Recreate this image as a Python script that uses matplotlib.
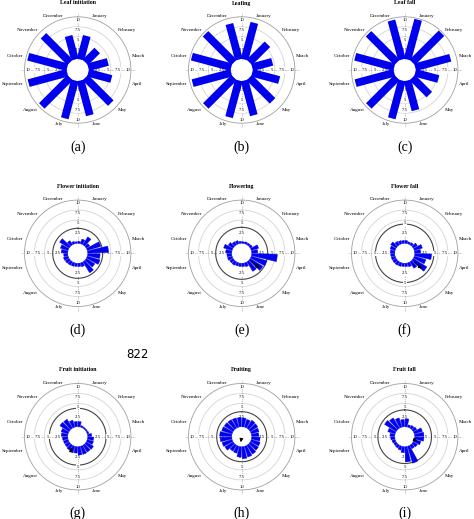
import numpy as np
import matplotlib
matplotlib.use('Agg')
import matplotlib.pyplot as plt

# ---- data ----
months = ['January', 'February', 'March', 'April', 'May', 'June', 'July',
          'August', 'September', 'October', 'November', 'December']
titles = ['Leaf initiation', 'Leafing', 'Leaf fall',
          'Flower initiation', 'Flowering', 'Flower fall',
          'Fruit initiation', 'Fruiting', 'Fruit fall']
panel_tags = ['(a)', '(b)', '(c)', '(d)', '(e)', '(f)', '(g)', '(h)', '(i)']
tick_vals = [2.5, 5, 7.5, 10]
tick_text = ['2.5', '5', '7.5', '10']

# monthly leaf phenology (bars centred on each month)
leaf_init = [6.3, 4.4, 5.3, 6.2, 9.2, 9.2, 10.0, 10.2, 10.2, 10.3, 9.6, 6.3]
leafing = [9.7, 6.6, 5.4, 7.2, 8.4, 9.2, 9.7, 10.2, 10.2, 10.4, 10.3, 9.4]
leaf_fall = [10.5, 10.5, 9.3, 6.2, 6.2, 7.9, 10.0, 10.2, 10.2, 10.3, 10.3, 10.3]

# flower / fruit phenology, 24 bins of 15 degrees starting at north
flower_init = [0.5, 1.2, 2.3, 1.0, 3.5, 5.2, 3.1, 3.3, 2.5, 3.2, 1.0, 0.8,
               0.8, 0.9, 1.0, 1.1, 1.2, 1.0, 1.6, 2.0, 2.8, 1.2, 0.6, 0.4]
flowering = [0.4, 0.5, 0.5, 0.6, 1.9, 1.5, 6.4, 4.0, 3.7, 2.8, 1.0, 0.8,
             0.8, 0.8, 1.0, 1.0, 1.2, 1.2, 1.5, 2.2, 1.4, 0.9, 0.8, 0.5]
flower_fall = [0.7, 0.5, 0.6, 1.2, 2.1, 1.5, 4.2, 3.0, 4.0, 1.9, 1.0, 0.8,
               0.8, 0.9, 1.0, 1.0, 1.0, 1.0, 1.1, 1.3, 1.6, 1.0, 0.8, 0.7]
fruit_init = [1.3, 0.4, 0.3, 0.3, 0.4, 1.0, 1.5, 1.6, 2.1, 2.0, 2.1, 2.1,
              1.6, 1.7, 1.4, 1.2, 1.2, 1.3, 1.6, 1.8, 2.7, 2.6, 1.8, 1.3]
fruiting = [2.2, 2.0, 2.3, 2.2, 2.0, 1.8, 2.1, 2.3, 2.4, 2.6, 2.8, 3.0,
            2.6, 1.8, 1.7, 2.4, 2.6, 2.9, 3.0, 2.7, 2.6, 2.5, 2.4, 2.3]
fruit_fall = [2.0, 0.6, 0.8, 1.0, 2.1, 2.3, 2.3, 1.7, 1.2, 1.0, 4.4, 3.8,
              1.5, 1.0, 0.8, 0.7, 0.8, 1.0, 1.2, 1.9, 3.4, 3.0, 2.4, 1.8]

# reference ring (value units) and mean direction arrows (deg, radius)
ring_vals = [None, None, None, 3.75, 4.0, 4.8, 4.6, 3.75, 4.2]
arrow_deg = [None, None, None, None, 130, 132, 207, 190, 108]
arrow_len = [None, None, None, None, 6.5, 6.5, 5.2, 2.1, 4.0]

series = [leaf_init, leafing, leaf_fall, flower_init, flowering, flower_fall,
          fruit_init, fruiting, fruit_fall]

# ---- layout ----
W, H = 474, 519
HOLE = 2.5
RMAX = 13.3
PX_PER_UNIT = 4.0
R_PX = RMAX * PX_PER_UNIT
centers_x = [77.7, 241.7, 404.7]
centers_y = [70, 253.3, 436.7]
SERIF = 'Liberation Serif'
BLUE = '#0000ee'

fig = plt.figure(figsize=(W / 100, H / 100), dpi=100)


def circle(ax, r, color, lw, z=1):
    t = np.linspace(0, 2 * np.pi, 300)
    ax.plot(t, np.full_like(t, r), color=color, lw=lw, zorder=z)


def rose(idx):
    cx = centers_x[idx % 3]
    cy = centers_y[idx // 3]
    ax = fig.add_axes([(cx - R_PX) / W, 1 - (cy + R_PX) / H, 2 * R_PX / W, 2 * R_PX / H],
                      projection='polar')
    ax.set_theta_zero_location('N')
    ax.set_theta_direction(-1)
    ax.set_ylim(0, RMAX)
    ax.grid(False)
    ax.set_xticks([])
    ax.set_yticks([])
    ax.spines['polar'].set_color('#a0a0a0')
    ax.spines['polar'].set_linewidth(0.6)

    # grid circles
    for v in [5, 7.5]:
        circle(ax, HOLE + 0.8 + v, '#d4d4d4', 0.6)
    if ring_vals[idx] is not None:
        circle(ax, HOLE + ring_vals[idx], '#444444', 0.8, z=1.5)

    vals = np.array(series[idx])
    n = len(vals)
    if n == 12:
        # monthly bars drawn as straight strips of constant width
        theta = np.radians(15 + 30 * np.arange(n))
        for th, v in zip(theta, vals):
            ax.plot([th, th], [HOLE + 0.2, HOLE + v], color=BLUE, lw=5.6,
                    solid_capstyle='butt', zorder=2)
    else:
        theta = np.radians(7.5 + 15 * np.arange(n))
        ax.bar(theta, vals, width=np.radians(12), bottom=HOLE, color=BLUE,
               edgecolor=BLUE, linewidth=0.3, zorder=2)

    # cross axes with tick labels (drawn under the bars)
    for d in [0, 90, 180, 270]:
        th = np.radians(d)
        ax.plot([th, th], [HOLE, 14.3], color='#8c8c8c', lw=0.4,
                ls=(0, (2, 1.5)), clip_on=False, zorder=1)
        for v, s in zip(tick_vals, tick_text):
            ax.text(th, HOLE + v, s, fontsize=3.4, family=SERIF, ha='center',
                    va='center', zorder=1.8,
                    bbox=dict(boxstyle='square,pad=0.15', fc='white', ec='none'))

    # mean direction arrow
    if arrow_deg[idx] is not None:
        th = np.radians(arrow_deg[idx])
        start = HOLE if arrow_len[idx] > HOLE else 0
        ax.annotate('', xy=(th, arrow_len[idx]), xytext=(th, start),
                    arrowprops=dict(arrowstyle='-|>', color='black', lw=0.7,
                                    mutation_scale=5), zorder=4)

    # month labels
    for k, m in enumerate(months):
        ang = 15 + 30 * k
        ha = 'left' if np.sin(np.radians(ang)) > 0 else 'right'
        ax.text(np.radians(ang), 14.0, m, fontsize=3.6, family=SERIF,
                ha=ha, va='center', clip_on=False)

    fig.text(cx / W, 1 - (cy - 67) / H, titles[idx], fontsize=4.2, family=SERIF,
             weight='bold', ha='center', va='center')
    fig.text(cx / W, 1 - (cy + 77) / H, panel_tags[idx], fontsize=10, family=SERIF,
             ha='center', va='center')


for i in range(9):
    rose(i)

fig.text(137 / W, 1 - 355 / H, '822', fontsize=8.5, ha='center', va='center')

fig.savefig('out.png', dpi=100)
